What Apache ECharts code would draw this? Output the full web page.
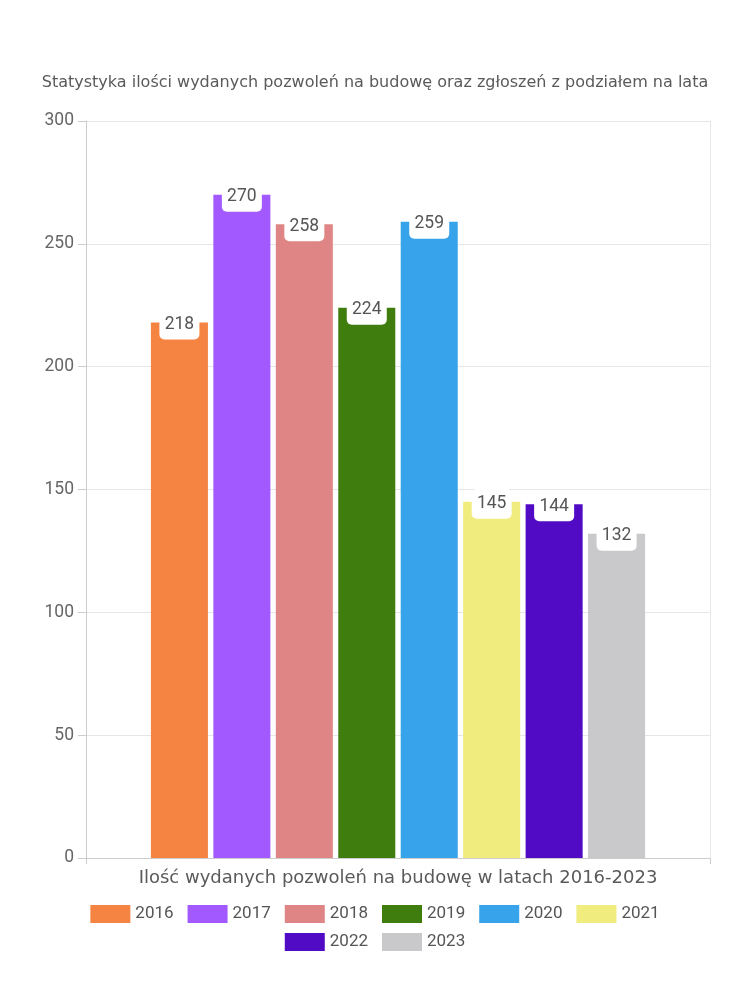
<!DOCTYPE html>
<html><head><meta charset="utf-8">
<script src="https://cdn.jsdelivr.net/npm/echarts@6/dist/echarts.min.js"></script>
<style>html,body{margin:0;padding:0;background:#fff}#c{width:750px;height:1000px}</style>
</head><body><div id="c"></div>
<script>
const categories = ['Ilość wydanych pozwoleń na budowę w latach 2016-2023'];
const years = ['2016','2017','2018','2019','2020','2021','2022','2023'];
const values = [218, 270, 258, 224, 259, 145, 144, 132];
const colors = ['#F58442','#A259FF','#E08585','#3F7D0E','#37A3EA','#F0EC7D','#520BC4','#C9C9CC'];
const yTicks = [0, 50, 100, 150, 200, 250, 300];

const font = '"DejaVu Sans", sans-serif';
const legendText = { fontFamily: 'Roboto, sans-serif', fontSize: 17, color: '#555' };
const chart = echarts.init(document.getElementById('c'));
chart.setOption({
  animation: false,
  title: {
    text: 'Statystyka ilości wydanych pozwoleń na budowę oraz zgłoszeń z podziałem na lata',
    left: 'center', top: 70,
    textStyle: { fontFamily: font, fontSize: 16, fontWeight: 'normal', color: '#5a5a5a' }
  },
  legend: [{
    top: 900, left: 'center',
    itemWidth: 40, itemHeight: 18, itemGap: 14, icon: 'rect',
    textStyle: legendText,
    data: years.slice(0, 6)
  }, {
    top: 928, left: 'center',
    itemWidth: 40, itemHeight: 18, itemGap: 14, icon: 'rect',
    textStyle: legendText,
    data: years.slice(6)
  }],
  grid: { left: 86, right: 40, top: 121, bottom: 142, containLabel: false },
  xAxis: {
    type: 'category', data: categories,
    axisLine: { lineStyle: { color: '#ccc' } },
    axisTick: { show: true, lineStyle: { color: '#ccc' }, length: 6 },
    axisLabel: { fontFamily: font, fontSize: 18, fontWeight: 'normal', color: '#5a5a5a', margin: 11 },
    splitLine: { show: true, lineStyle: { color: '#e6e6e6' } }
  },
  yAxis: {
    type: 'value', min: yTicks[0], max: yTicks[yTicks.length-1], interval: 50,
    axisLine: { show: true, lineStyle: { color: '#ccc' } },
    axisTick: { show: true, length: 8, lineStyle: { color: '#ccc' } },
    axisLabel: { fontFamily: 'Roboto, sans-serif', fontSize: 17.5, color: '#666', margin: 12 },
    splitLine: { lineStyle: { color: '#e6e6e6' } }
  },
  series: years.map((y, i) => ({
    name: y, type: 'bar',
    barCategoryGap: '20.8%', barGap: '9.5%',
    itemStyle: { color: colors[i] },
    label: {
      show: true, position: 'insideTop', offset: [0, -18],
      backgroundColor: '#fff', borderRadius: 5,
      padding: [6, 6, 6, 6], width: 28, align: 'center',
      fontFamily: 'Roboto, sans-serif', fontSize: 17.5, color: '#555'
    },
    data: [values[i]]
  }))
});
</script></body></html>
